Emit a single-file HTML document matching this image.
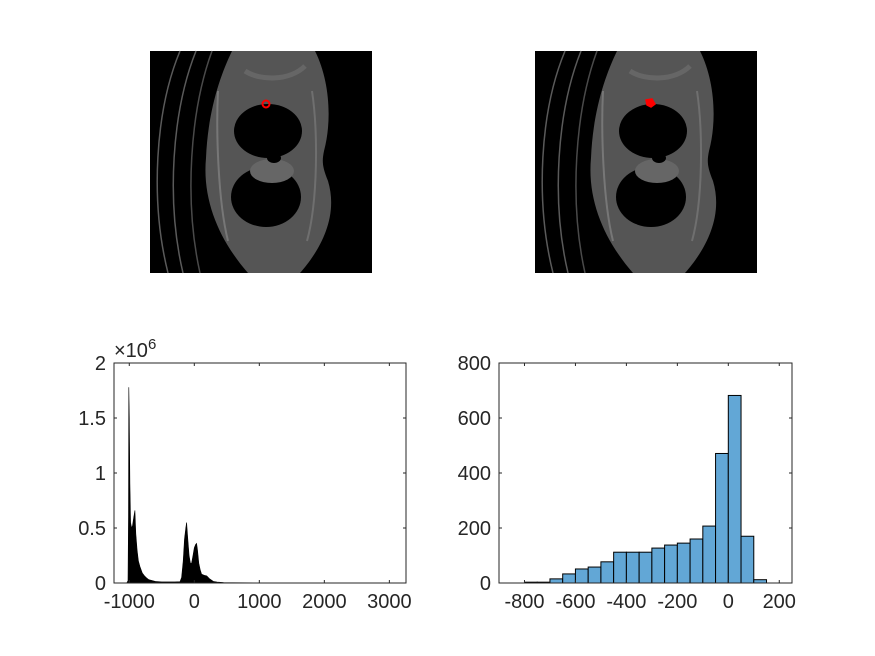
<!DOCTYPE html>
<html><head><meta charset="utf-8"><style>
body{margin:0;background:#fff;}
svg{display:block;font-family:"Liberation Sans",sans-serif;}
</style></head><body>
<svg id="fig" width="875" height="656" viewBox="0 0 875 656">
<rect width="875" height="656" fill="#fff"/>
<defs>
<g id="ct">
<rect x="0" y="0" width="222" height="222" fill="#000"/>
<path d="M18,222 C0,150 5,60 30,0" fill="none" stroke="#5a5a5a" stroke-width="1.5"/>
<path d="M33,222 C16,150 22,60 46,0" fill="none" stroke="#5a5a5a" stroke-width="1.5"/>
<path d="M50,222 C34,150 40,60 62,0" fill="none" stroke="#4a4a4a" stroke-width="1.5"/>
<path d="M82,0 L165,0 C180,30 182,70 174,100 C172,110 172,115 178,130 C190,170 165,205 150,222 L98,222 C70,190 52,150 56,107 C58,60 70,25 82,0 Z" fill="#555"/>
<path d="M95,20 C110,30 140,30 155,15" fill="none" stroke="#666" stroke-width="5"/>
<ellipse cx="118" cy="80" rx="34" ry="27" fill="#000"/>
<ellipse cx="116" cy="146" rx="35" ry="30" fill="#000"/>
<ellipse cx="122" cy="120" rx="22" ry="12" fill="#666"/>
<ellipse cx="124" cy="107" rx="7" ry="5" fill="#000"/>
<path d="M68,40 C66,80 68,150 78,190" fill="none" stroke="#777" stroke-width="2"/>
<path d="M162,40 C168,80 168,150 157,190" fill="none" stroke="#6f6f6f" stroke-width="2"/>
</g>
</defs>
<g>
<use href="#ct" x="150" y="51"/>
<circle cx="266" cy="104" r="3.5" fill="none" stroke="#f00" stroke-width="2"/>
</g>
<g>
<use href="#ct" x="535" y="51"/>
<path d="M646,100 L652,99 L655,104 L651,107 L647,105 Z" fill="#f00" stroke="#f00" stroke-width="1.5"/>
</g>
<g id="left"></g>
<g id="right"></g>
</svg>
<script>
// Left: whole-image intensity histogram (x: HU, y: counts)
const leftX = [-1040,-1020,-1012,-1008,-1000,-990,-980,-965,-950,-930,-913,-900,-880,-860,-836,-800,-760,-733,-700,-600,-500,-425,-300,-220,-195,-170,-150,-130,-118,-100,-80,-60,-41,-20,0,20,36,50,70,90,113,150,190,230,292,350,450,600,1000,2000,3000,3060];
const leftY = [0,0.02,0.6,1.78,1.5,0.9,0.55,0.5,0.52,0.6,0.66,0.45,0.3,0.2,0.15,0.09,0.06,0.045,0.03,0.015,0.01,0.01,0.01,0.012,0.05,0.2,0.4,0.5,0.55,0.4,0.25,0.18,0.18,0.25,0.32,0.35,0.36,0.3,0.18,0.12,0.08,0.07,0.065,0.04,0.015,0.008,0.005,0.003,0.002,0.002,0.002,0];
const leftXTicks = [-1000,0,1000,2000,3000];
const leftYTicks = [0,0.5,1,1.5,2];
const leftYLabels = ["0","0.5","1","1.5","2"];
// Right: ROI histogram
const binEdgesStart = [-800,-750,-700,-650,-600,-550,-500,-450,-400,-350,-300,-250,-200,-150,-100,-50,0,50,100];
const binCounts = [3,3,15,33,51,58,77,112,112,112,127,138,145,160,207,471,682,170,12];
const binWidth = 50;
const rightXTicks = [-800,-600,-400,-200,0,200];
const rightYTicks = [0,200,400,600,800];

const NS="http://www.w3.org/2000/svg";
function mk(parent,tag,attrs){const e=document.createElementNS(NS,tag);for(const k in attrs)e.setAttribute(k,attrs[k]);parent.appendChild(e);return e;}
const TC="#262626";
const FS=20;

function axesFrame(g,L,T,R,B,xt,xs,yt,ys,ylab,xlab){
  for(let i=0;i<xt.length;i++){const x=xs(xt[i]);
    const t1=mk(g,'line',{x1:x,y1:B,x2:x,y2:B-3,stroke:TC,'stroke-width':1});
    
    mk(g,'line',{x1:x,y1:T,x2:x,y2:T+3,stroke:TC,'stroke-width':1});
    const tx=mk(g,'text',{x:x,y:B+25,'text-anchor':'middle','font-size':FS,fill:TC});tx.textContent=xlab?xlab[i]:String(xt[i]);
    }
  for(let i=0;i<yt.length;i++){const y=ys(yt[i]);
    mk(g,'line',{x1:L,y1:y,x2:L+3,y2:y,stroke:TC,'stroke-width':1});
    mk(g,'line',{x1:R,y1:y,x2:R-3,y2:y,stroke:TC,'stroke-width':1});
    const ty=mk(g,'text',{x:L-8,y:y+7,'text-anchor':'end','font-size':FS,fill:TC});ty.textContent=ylab?ylab[i]:String(yt[i]);
    }
  const fr=mk(g,'rect',{x:L,y:T,width:R-L,height:B-T,fill:'none',stroke:TC,'stroke-width':1});
  
}

// left plot
(function(){
  const g=document.getElementById('left');
  const L=114,T=363,R=406,B=583;
  const xs=v=>L+(v+1235)/(3256+1235)*(R-L);
  const ys=v=>B-v/2*(B-T);
  let d='M'+xs(leftX[0])+','+B;
  for(let i=0;i<leftX.length;i++)d+=' L'+xs(leftX[i]).toFixed(1)+','+ys(leftY[i]).toFixed(1);
  d+=' L'+xs(leftX[leftX.length-1])+','+B+' Z';
  const a=mk(g,'path',{d:d,fill:'#000',stroke:'#000','stroke-width':0.6});
  
  axesFrame(g,L,T,R,B,leftXTicks,xs,leftYTicks,ys,leftYLabels,null);
  const e=mk(g,'text',{x:114,y:357,'font-size':FS,fill:TC});
  e.innerHTML='×10<tspan dy="-8" font-size="15">6</tspan>';
  
})();

// right plot
(function(){
  const g=document.getElementById('right');
  const L=499,T=363,R=792,B=583;
  const xs=v=>L+(v+900)/1150*(R-L);
  const ys=v=>B-v/800*(B-T);
  for(let i=0;i<binCounts.length;i++){
    const x0=xs(binEdgesStart[i]),x1=xs(binEdgesStart[i]+binWidth),y=ys(binCounts[i]);
    const r=mk(g,'rect',{x:x0,y:y,width:x1-x0,height:B-y,fill:'#62a7d6',stroke:'#000','stroke-width':1});
    
  }
  axesFrame(g,L,T,R,B,rightXTicks,xs,rightYTicks,ys,null,null);
})();
</script>
</body></html>
